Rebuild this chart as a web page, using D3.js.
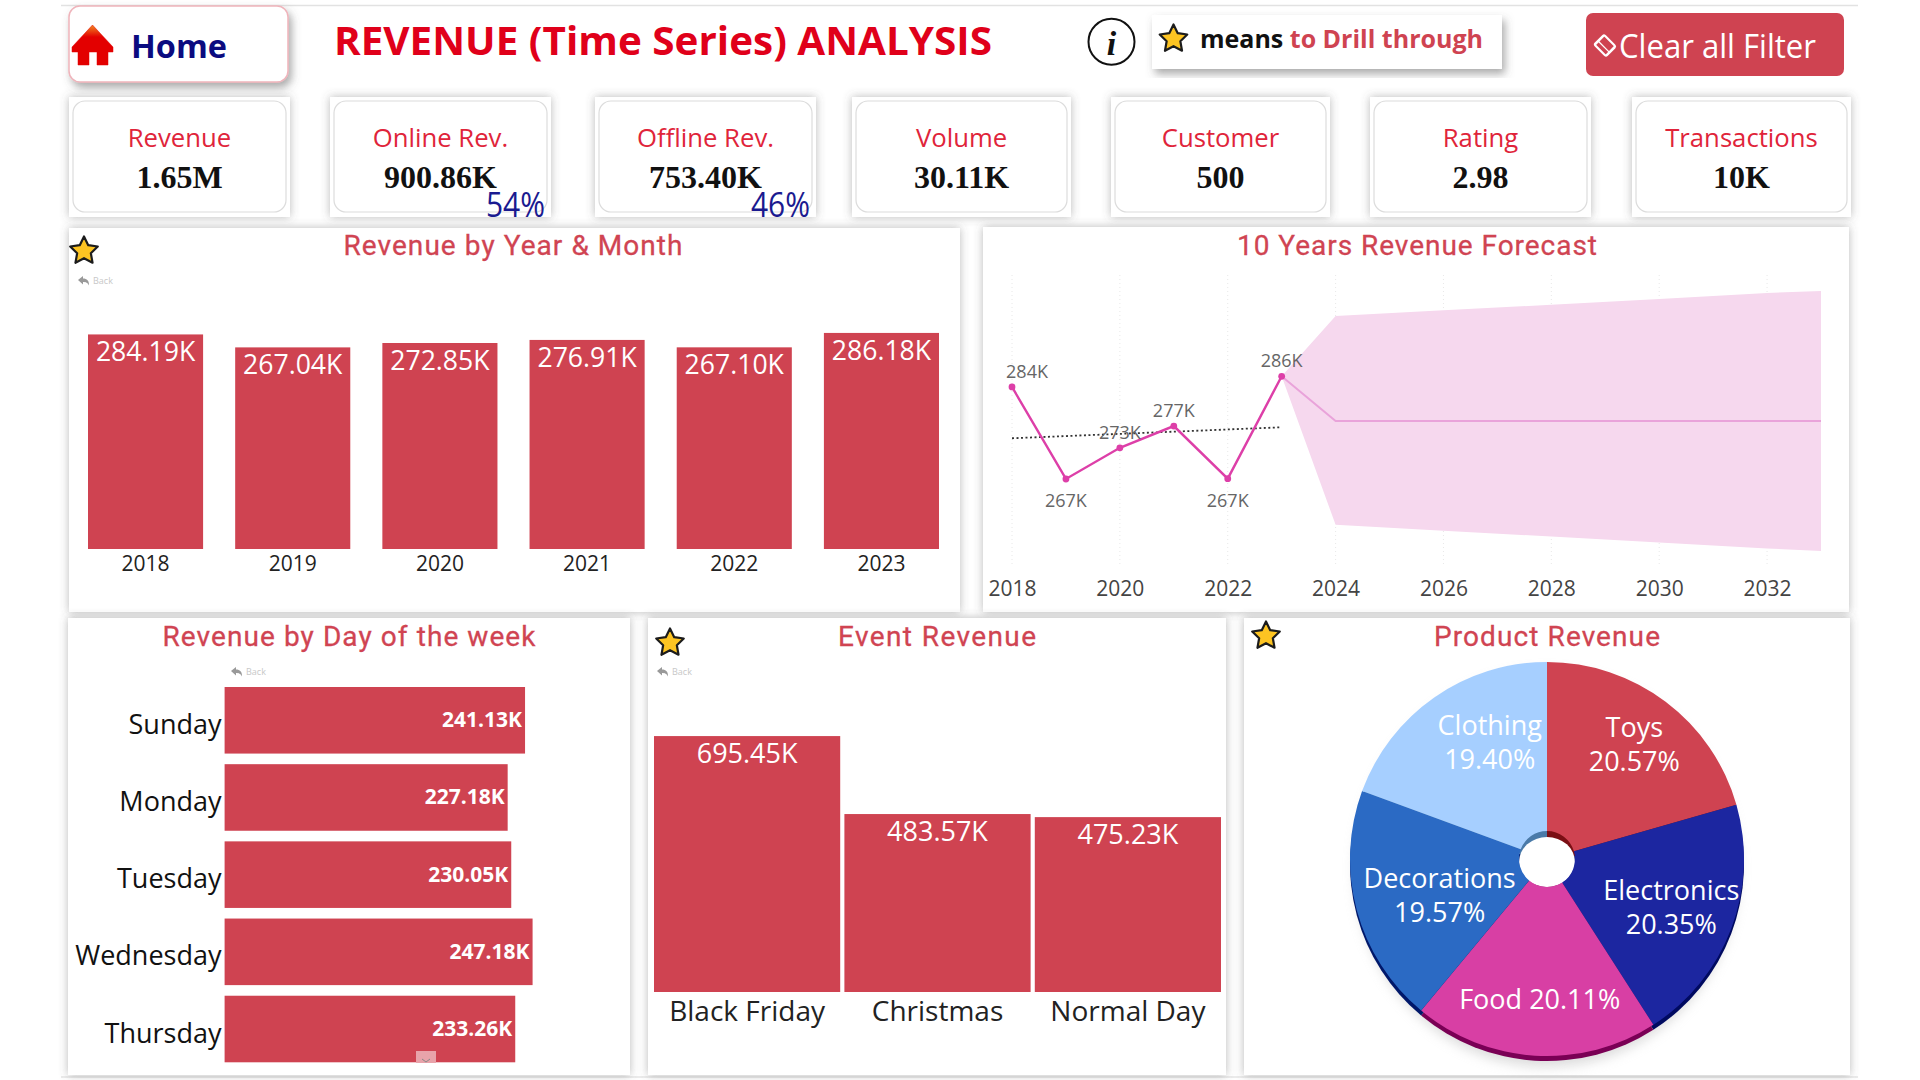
<!DOCTYPE html>
<html>
    <head>
        <meta charset="utf-8" />
        <title>Revenue Time Series Analysis</title>
        <script src="https://d3js.org/d3.v7.min.js"></script>
        <style>
            body { margin: 0; background: white; }
            svg { display: block; }
            text { font-family: "Open Sans", sans-serif; }
            .title { font-family: Roboto, sans-serif; font-size: 28px; fill: #d04452; stroke: #d04452; stroke-width: 0.3px; text-anchor: middle; dominant-baseline: central; }
            .axis text { fill: #222; }
            .axis path, .axis line { display: none; }
        </style>
    </head>
    <body>
        <svg width="1920" height="1080" id="page"></svg>

        <script>
            // Data
            var kpiNames = ["Revenue", "Online Rev.", "Offline Rev.", "Volume", "Customer", "Rating", "Transactions"];
            var kpiValues = ["1.65M", "900.86K", "753.40K", "30.11K", "500", "2.98", "10K"];
            var kpiShares = ["", "54%", "46%", "", "", "", ""];

            var years = [2018, 2019, 2020, 2021, 2022, 2023];
            var yearRevenue = [284.19, 267.04, 272.85, 276.91, 267.10, 286.18];
            var trendRevenue = [274.63, 275.04, 275.45, 275.86, 276.27, 276.68];

            var forecastYears = [2023, 2024, 2026, 2028, 2030, 2032, 2033];
            var forecastMean = [286.18, 277.85, 277.85, 277.85, 277.85, 277.85, 277.85];
            var forecastUpper = [286.18, 297.4, 298.5, 299.5, 300.6, 301.7, 302.1];
            var forecastLower = [286.18, 258.5, 257.4, 256.3, 255.2, 254.1, 253.6];
            var forecastTicks = [2018, 2020, 2022, 2024, 2026, 2028, 2030, 2032];

            var days = ["Sunday", "Monday", "Tuesday", "Wednesday", "Thursday"];
            var dayRevenue = [241.13, 227.18, 230.05, 247.18, 233.26];

            var events = ["Black Friday", "Christmas", "Normal Day"];
            var eventRevenue = [695.45, 483.57, 475.23];

            var products = ["Toys", "Electronics", "Food", "Decorations", "Clothing"];
            var productShare = [20.57, 20.35, 20.11, 19.57, 19.40];

            var RED = "#cf4351";
            var svg = d3.select("#page");
            var defs = svg.append("defs");

            function addShadow(id, dx, dy, blur, opacity) {
                defs.append("filter").attr("id", id)
                    .attr("x", "-10%").attr("y", "-10%").attr("width", "120%").attr("height", "125%")
                    .append("feDropShadow")
                    .attr("dx", dx).attr("dy", dy).attr("stdDeviation", blur)
                    .attr("flood-color", "#555").attr("flood-opacity", opacity);
            }
            addShadow("soft", 0, 0, 5, 0.42);
            addShadow("drop", 3, 5, 4, 0.5);

            var homeGrad = defs.append("linearGradient").attr("id", "homeGrad")
                .attr("x1", 0).attr("y1", 0).attr("x2", 0).attr("y2", 1);
            homeGrad.append("stop").attr("offset", "0").attr("stop-color", "#f08a20");
            homeGrad.append("stop").attr("offset", "0.3").attr("stop-color", "#e30000");

            function money(v) { return d3.format(".2f")(v) + "K"; }

            // five points, fatter than d3.symbolStar
            var starPath = d3.lineRadial().curve(d3.curveLinearClosed)(
                d3.range(10).map(function(i) {
                    return [i * Math.PI / 5, i % 2 ? 7.2 : 14.5];
                })
            );

            function star(x, y) {
                svg.append("path")
                    .attr("d", starPath)
                    .attr("transform", "translate(" + x + "," + y + ")")
                    .attr("fill", "#fdc422")
                    .attr("stroke", "#1c1c1c")
                    .attr("stroke-width", 2.2)
                    .attr("stroke-linejoin", "round");
            }

            function panel(x0, y0, x1, y1) {
                svg.append("rect")
                    .attr("x", x0).attr("y", y0)
                    .attr("width", x1 - x0).attr("height", y1 - y0)
                    .attr("fill", "white")
                    .attr("filter", "url(#soft)");
            }

            function title(text, x, y, width) {
                svg.append("text").attr("class", "title")
                    .attr("x", x).attr("y", y)
                    .attr("textLength", width)
                    .text(text);
            }

            function backButton(x, y) {
                svg.append("path")
                    .attr("d", "M" + x + "," + (y - 1) + "l5,-4v2.5c4,0 6,2 6,7c-1.5,-3 -3,-3.5 -6,-3.5v2.5z")
                    .attr("fill", "#999");
                svg.append("text")
                    .attr("x", x + 15).attr("y", y + 3)
                    .attr("font-size", 9).attr("fill", "#c8c8c8")
                    .text("Back");
            }

            /* Header */
            svg.append("line").attr("x1", 61).attr("x2", 1858).attr("y1", 5.5).attr("y2", 5.5).attr("stroke", "#e2e2e2").attr("stroke-width", 1.5);
            svg.append("line").attr("x1", 61).attr("x2", 1858).attr("y1", 1077).attr("y2", 1077).attr("stroke", "#e6e6e6").attr("stroke-width", 1.5);

            svg.append("rect")
                .attr("x", 69).attr("y", 6).attr("width", 219).attr("height", 76).attr("rx", 11)
                .attr("fill", "white").attr("stroke", "#efb4bb").attr("stroke-width", 1.5)
                .attr("filter", "url(#drop)");
            svg.append("path")
                .attr("d", "M92.5,25L113,47V52L108,52V65H97V52H89V65H78V52L72,52V47Z")
                .attr("fill", "url(#homeGrad)")
                .attr("stroke", "#e30000").attr("stroke-width", 0.5).attr("stroke-linejoin", "round");
            svg.append("text")
                .attr("x", 131).attr("y", 45.5).attr("dominant-baseline", "central")
                .attr("font-size", 33).attr("font-weight", 700).attr("fill", "#0b0b80")
                .attr("textLength", 96).attr("lengthAdjust", "spacingAndGlyphs")
                .text("Home");

            svg.append("text")
                .attr("x", 334).attr("y", 39).attr("dominant-baseline", "central")
                .attr("font-size", 39).attr("font-weight", 700).attr("fill", "#e0001a")
                .attr("textLength", 658).attr("lengthAdjust", "spacingAndGlyphs")
                .text("REVENUE (Time Series) ANALYSIS");

            svg.append("ellipse")
                .attr("cx", 1111.5).attr("cy", 41.7).attr("rx", 23).attr("ry", 23)
                .attr("fill", "white").attr("stroke", "#111").attr("stroke-width", 2);
            svg.append("text")
                .attr("x", 1111.5).attr("y", 43).attr("text-anchor", "middle").attr("dominant-baseline", "central")
                .attr("font-size", 34).attr("font-weight", 700).attr("font-style", "italic").attr("fill", "#111")
                .style("font-family", "'Liberation Serif', serif")
                .text("i");

            svg.append("rect")
                .attr("x", 1152).attr("y", 15).attr("width", 350).attr("height", 54)
                .attr("fill", "white").attr("filter", "url(#drop)");
            star(1173.5, 39);
            var legendText = svg.append("text")
                .attr("x", 1200).attr("y", 38).attr("dominant-baseline", "central")
                .attr("font-size", 25).attr("font-weight", 700)
                .attr("textLength", 283).attr("lengthAdjust", "spacingAndGlyphs");
            legendText.append("tspan").attr("fill", "#111").text("means ");
            legendText.append("tspan").attr("fill", RED).text("to Drill through");

            svg.append("rect")
                .attr("x", 1586).attr("y", 13).attr("width", 258).attr("height", 63).attr("rx", 7)
                .attr("fill", RED);
            var eraser = svg.append("g").attr("transform", "translate(1605,45.5) rotate(45) scale(1,0.85)");
            eraser.append("rect")
                .attr("x", -8).attr("y", -8).attr("width", 16).attr("height", 16).attr("rx", 1.5)
                .attr("fill", "none").attr("stroke", "white").attr("stroke-width", 2.5);
            eraser.append("line")
                .attr("x1", -8).attr("x2", 8).attr("y1", 2).attr("y2", 2)
                .attr("stroke", "white").attr("stroke-width", 1.5);
            svg.append("text")
                .attr("x", 1619).attr("y", 45.5).attr("dominant-baseline", "central")
                .attr("font-size", 32).attr("fill", "white")
                .attr("textLength", 197).attr("lengthAdjust", "spacingAndGlyphs")
                .text("Clear all Filter");

            /* KPI cards */
            var cardEdges = [[69, 290], [330, 551], [595, 816], [852, 1071], [1111, 1330], [1370, 1591], [1632, 1851]];

            kpiNames.forEach(function(name, i) {
                var x0 = cardEdges[i][0], x1 = cardEdges[i][1], mid = (x0 + x1) / 2;
                svg.append("rect")
                    .attr("x", x0).attr("y", 97).attr("width", x1 - x0).attr("height", 120)
                    .attr("fill", "white").attr("filter", "url(#soft)");
                svg.append("rect")
                    .attr("x", x0 + 4).attr("y", 101).attr("width", x1 - x0 - 8).attr("height", 111).attr("rx", 12)
                    .attr("fill", "white").attr("stroke", "#dcdcdc").attr("stroke-width", 1.2);
                svg.append("text")
                    .attr("x", mid).attr("y", 137.5)
                    .attr("text-anchor", "middle").attr("dominant-baseline", "central")
                    .attr("font-size", 25.7).attr("fill", "#e0243a")
                    .text(name);
                svg.append("text")
                    .attr("x", mid).attr("y", 177)
                    .attr("text-anchor", "middle").attr("dominant-baseline", "central")
                    .attr("font-size", 32).attr("font-weight", 700).attr("fill", "#111")
                    .style("font-family", "'Liberation Serif', serif")
                    .text(kpiValues[i]);
                if (kpiShares[i]) {
                    svg.append("text")
                        .attr("x", x1 - 65).attr("y", 204)
                        .attr("dominant-baseline", "central")
                        .attr("font-size", 34).attr("fill", "#1a1a90")
                        .attr("textLength", 59).attr("lengthAdjust", "spacingAndGlyphs")
                        .text(kpiShares[i]);
                }
            });

            /* Revenue by year */
            panel(69, 228, 960, 612);
            title("Revenue by Year & Month", 513, 245, 339);
            star(84, 251);
            backButton(78, 281);

            var yearX = d3.scaleBand().domain(years).range([88, 939]).paddingInner(0.218);
            var yearY = d3.scaleLinear().domain([0, 300]).range([549, 322.5]);

            svg.append("g").selectAll("rect").data(years).enter().append("rect")
                .attr("x", function(d) { return yearX(d); })
                .attr("y", function(d, i) { return yearY(yearRevenue[i]); })
                .attr("width", yearX.bandwidth())
                .attr("height", function(d, i) { return yearY(0) - yearY(yearRevenue[i]); })
                .attr("fill", RED);

            svg.append("g").selectAll("text").data(years).enter().append("text")
                .attr("x", function(d) { return yearX(d) + yearX.bandwidth() / 2; })
                .attr("y", function(d, i) { return yearY(yearRevenue[i]) + 17; })
                .attr("text-anchor", "middle").attr("dominant-baseline", "central")
                .attr("font-size", 26.6).attr("fill", "white")
                .text(function(d, i) { return money(yearRevenue[i]); });

            svg.append("g").attr("class", "axis")
                .attr("transform", "translate(0,549)")
                .call(d3.axisBottom(yearX).tickSize(0).tickPadding(7))
                .selectAll("text").attr("font-size", 21).style("font-family", "'Open Sans', sans-serif");

            /* Forecast */
            panel(983, 227, 1849, 612);
            title("10 Years Revenue Forecast", 1417, 245, 360);

            var foreX = d3.scaleLinear().domain([2018, 2033]).range([1012, 1821]);
            var foreY = d3.scaleLinear().domain([250, 310]).range([570.4, 248.5]);

            svg.append("g").selectAll("line").data(forecastTicks).enter().append("line")
                .attr("x1", foreX).attr("x2", foreX)
                .attr("y1", 275).attr("y2", 567)
                .attr("stroke", "#e8e8e8").attr("stroke-dasharray", "1,3");

            svg.append("path")
                .datum(forecastYears)
                .attr("fill", "#f6d8ee")
                .attr("d", d3.area()
                    .x(function(d) { return foreX(d); })
                    .y0(function(d, i) { return foreY(forecastLower[i]); })
                    .y1(function(d, i) { return foreY(forecastUpper[i]); }));

            svg.append("path")
                .datum(forecastYears)
                .attr("fill", "none").attr("stroke", "#e9a3da").attr("stroke-width", 2)
                .attr("d", d3.line()
                    .x(function(d) { return foreX(d); })
                    .y(function(d, i) { return foreY(forecastMean[i]); }));

            svg.append("path")
                .datum(years)
                .attr("fill", "none").attr("stroke", "#333").attr("stroke-width", 1.8).attr("stroke-dasharray", "2,2.5")
                .attr("d", d3.line()
                    .x(function(d) { return foreX(d); })
                    .y(function(d, i) { return foreY(trendRevenue[i]); }));

            svg.append("path")
                .datum(years)
                .attr("fill", "none").attr("stroke", "#dd3fa8").attr("stroke-width", 2.4)
                .attr("d", d3.line()
                    .x(function(d) { return foreX(d); })
                    .y(function(d, i) { return foreY(yearRevenue[i]); }));

            svg.append("g").selectAll("circle").data(years).enter().append("circle")
                .attr("cx", function(d) { return foreX(d); })
                .attr("cy", function(d, i) { return foreY(yearRevenue[i]); })
                .attr("r", 3.4).attr("fill", "#dd3fa8");

            svg.append("g").selectAll("text").data(years).enter().append("text")
                .attr("x", function(d, i) { return foreX(d) + (i == 0 ? 15 : 0); })
                .attr("y", function(d, i) {
                    // the two low years carry their label under the point
                    var low = yearRevenue[i] < 270;
                    return foreY(yearRevenue[i]) + (low ? 21 : -16);
                })
                .attr("text-anchor", "middle").attr("dominant-baseline", "central")
                .attr("font-size", 18).attr("fill", "#666")
                .text(function(d, i) { return Math.round(yearRevenue[i]) + "K"; });

            svg.append("g").attr("class", "axis")
                .attr("transform", "translate(0,581)")
                .call(d3.axisBottom(foreX).tickValues(forecastTicks).tickFormat(d3.format("d")).tickSize(0).tickPadding(0))
                .selectAll("text").attr("font-size", 21).style("fill", "#444").style("font-family", "'Open Sans', sans-serif");

            /* Revenue by day of the week */
            panel(68, 618, 630, 1075);
            title("Revenue by Day of the week", 349, 636, 373);
            backButton(231, 672);

            var dayY = d3.scaleBand().domain(days).range([687, 1062.3]).paddingInner(0.1375);
            var dayX = d3.scaleLinear().domain([0, 250]).range([224.6, 536.1]);

            svg.append("g").selectAll("rect").data(days).enter().append("rect")
                .attr("x", dayX(0))
                .attr("y", function(d) { return dayY(d); })
                .attr("width", function(d, i) { return dayX(dayRevenue[i]) - dayX(0); })
                .attr("height", dayY.bandwidth())
                .attr("fill", RED);

            svg.append("g").selectAll("text").data(days).enter().append("text")
                .attr("x", function(d, i) { return dayX(dayRevenue[i]) - 3; })
                .attr("y", function(d) { return dayY(d) + dayY.bandwidth() / 2 - 1; })
                .attr("text-anchor", "end").attr("dominant-baseline", "central")
                .attr("font-size", 21).attr("font-weight", 700).attr("fill", "white")
                .text(function(d, i) { return money(dayRevenue[i]); });

            svg.append("g").attr("class", "axis")
                .attr("transform", "translate(221.5,5)")
                .call(d3.axisLeft(dayY).tickSize(0).tickPadding(0))
                .selectAll("text").attr("font-size", 27).style("fill", "#111").style("font-family", "'Open Sans', sans-serif");

            // scroll arrow sitting on the last bar
            svg.append("rect").attr("x", 416).attr("y", 1051).attr("width", 20).attr("height", 12).attr("fill", "#e8a3aa");
            svg.append("path").attr("d", "M422,1059l4,3l4,-3").attr("fill", "none").attr("stroke", "#888").attr("stroke-width", 1);

            /* Event revenue */
            panel(648, 618, 1226, 1075);
            title("Event Revenue", 937, 636, 198);
            star(670, 643);
            backButton(657, 672);

            var eventX = d3.scaleBand().domain(events).range([654, 1221]).paddingInner(0.022);
            var eventY = d3.scaleLinear().domain([0, 750]).range([992, 716]);

            svg.append("g").selectAll("rect").data(events).enter().append("rect")
                .attr("x", function(d) { return eventX(d); })
                .attr("y", function(d, i) { return eventY(eventRevenue[i]); })
                .attr("width", eventX.bandwidth())
                .attr("height", function(d, i) { return eventY(0) - eventY(eventRevenue[i]); })
                .attr("fill", RED);

            svg.append("g").selectAll("text").data(events).enter().append("text")
                .attr("x", function(d) { return eventX(d) + eventX.bandwidth() / 2; })
                .attr("y", function(d, i) { return eventY(eventRevenue[i]) + 16; })
                .attr("text-anchor", "middle").attr("dominant-baseline", "central")
                .attr("font-size", 27).attr("fill", "white")
                .text(function(d, i) { return money(eventRevenue[i]); });

            svg.append("g").attr("class", "axis")
                .attr("transform", "translate(0,992)")
                .call(d3.axisBottom(eventX).tickSize(0).tickPadding(9))
                .selectAll("text").attr("font-size", 28).style("fill", "#222").style("font-family", "'Open Sans', sans-serif");

            /* Product pie */
            panel(1244, 618, 1850, 1075);
            title("Product Revenue", 1547, 636, 226);
            star(1266, 636);

            var pieColors = d3.scaleOrdinal().domain(products).range([RED, "#1c26a0", "#d83fa4", "#2b6ac4", "#a6cfff"]);
            var rimColors = d3.scaleOrdinal().domain(products).range(["#7a0f14", "#000a60", "#7a0055", "#00186a", "#4a7aa8"]);

            var pie = d3.pie().sort(null)(productShare);
            var pieGroup = svg.append("g").attr("transform", "translate(1547,859)");
            var rimArc = d3.arc().innerRadius(0).outerRadius(197);
            var faceArc = d3.arc().innerRadius(28).outerRadius(197);
            var labelArc = d3.arc().innerRadius(135).outerRadius(135);

            defs.append("filter").attr("id", "pieBlur").append("feGaussianBlur").attr("stdDeviation", 6);
            pieGroup.append("ellipse")
                .attr("cx", 0).attr("cy", 10).attr("rx", 192).attr("ry", 198)
                .attr("fill", "#bbb").attr("opacity", 0.5).attr("filter", "url(#pieBlur)");

            pieGroup.append("g").attr("transform", "translate(0,5)")
                .selectAll("path").data(pie).enter().append("path")
                .attr("d", rimArc)
                .attr("fill", function(d, i) { return rimColors(products[i]); });

            pieGroup.append("ellipse")
                .attr("cx", 0).attr("cy", 3).attr("rx", 28).attr("ry", 25)
                .attr("fill", "white");

            pieGroup.append("g")
                .selectAll("path").data(pie).enter().append("path")
                .attr("d", faceArc)
                .attr("fill", function(d, i) { return pieColors(products[i]); });

            // nudges away from the slice centroid, as the labels sit in the picture
            var pieLabelNudge = [[6, -8], [-2, 0], [1, 5], [23, 0], [20, -7]];

            pie.forEach(function(d, i) {
                var c = labelArc.centroid(d);
                var x = c[0] + pieLabelNudge[i][0], y = c[1] + pieLabelNudge[i][1];
                var share = d3.format(".2f")(productShare[i]) + "%";
                var label = pieGroup.append("text")
                    .attr("x", x).attr("text-anchor", "middle")
                    .attr("font-size", 27).attr("fill", "white");
                if (products[i] == "Food") {
                    label.attr("y", y).attr("dominant-baseline", "central").text(products[i] + " " + share);
                } else {
                    label.attr("y", y - 17).attr("dominant-baseline", "central").text(products[i]);
                    pieGroup.append("text")
                        .attr("x", x).attr("y", y + 17).attr("text-anchor", "middle").attr("dominant-baseline", "central")
                        .attr("font-size", 27).attr("fill", "white")
                        .text(share);
                }
            });
        </script>
    </body>
</html>
